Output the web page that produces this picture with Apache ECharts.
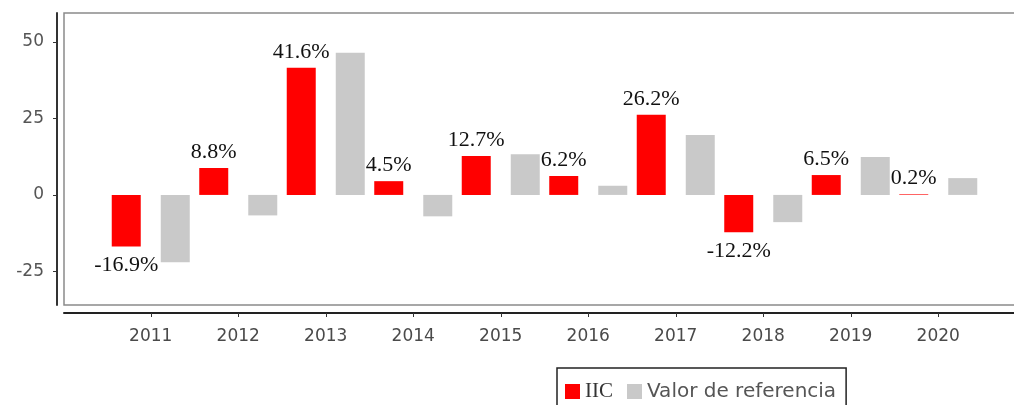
<!DOCTYPE html>
<html>
<head>
<meta charset="utf-8">
<script src="https://cdn.jsdelivr.net/npm/echarts@6/dist/echarts.min.js"></script>
<style>
  html, body { margin: 0; padding: 0; background: #fff; }
  #chart { width: 1014px; height: 405px; }
</style>
</head>
<body>
<div id="chart"></div>
<script>
// data
var years = ['2011', '2012', '2013', '2014', '2015', '2016', '2017', '2018', '2019', '2020'];
var iic = [-16.9, 8.8, 41.6, 4.5, 12.7, 6.2, 26.2, -12.2, 6.5, 0.2];
var referencia = [-22.0, -6.7, 46.5, -7.0, 13.3, 3.0, 19.6, -8.9, 12.4, 5.5];
var yTicks = [-25, 0, 25, 50];

var chart = echarts.init(document.getElementById('chart'), null, { renderer: 'canvas' });

var sans = 'DejaVu Sans';
var serif = 'Liberation Serif';

var option = {
    animation: false,
    backgroundColor: '#fff',
    // plot frame, open on the right like the original (runs off the canvas)
    graphic: [{
        type: 'polyline', z: -1, silent: true,
        shape: { points: [[1100, 13], [64, 13], [64, 305], [1100, 305]] },
        style: { fill: null, stroke: '#8a8a8a', lineWidth: 1.5 }
    }],
    grid: [
        // holds the long axis line below the frame
        { left: 64, top: 13, right: 0, height: 292 },
        // data area
        { left: 107, top: 13, width: 875, height: 292 }
    ],
    legend: {
        data: ['IIC', 'Valor de referencia'],
        left: 557,
        top: 368,
        padding: [13, 10, 13, 8],
        borderColor: '#222',
        borderWidth: 1.5,
        icon: 'rect',
        itemWidth: 15,
        itemHeight: 15,
        itemGap: 14,
        formatter: function (name) {
            return name === 'IIC' ? '{s|' + name + '}' : '{d|' + name + '}';
        },
        textStyle: {
            rich: {
                s: { fontFamily: serif, fontSize: 21, color: '#333' },
                d: { fontFamily: sans, fontSize: 20, color: '#555' }
            }
        }
    },
    xAxis: [
        {
            type: 'value', gridIndex: 0, position: 'bottom', offset: 8,
            axisLine: { show: true, onZero: false, lineStyle: { color: '#222', width: 2 } },
            axisTick: { show: false }, axisLabel: { show: false }, splitLine: { show: false }
        },
        {
            type: 'category', gridIndex: 1, data: years, position: 'bottom', offset: 8,
            boundaryGap: true,
            axisLine: { show: false, onZero: false },
            axisTick: { show: true, alignWithLabel: true, length: 4, lineStyle: { color: '#333' } },
            axisLabel: { fontFamily: sans, fontSize: 17, color: '#4a4a4a', margin: 15 },
            splitLine: { show: false }
        }
    ],
    yAxis: [
        {
            type: 'value', gridIndex: 0, show: false
        },
        {
            type: 'value', gridIndex: 1, min: -36, max: 59.5, offset: 50,
            axisLine: { show: true, onZero: false, lineStyle: { color: '#333', width: 2 } },
            axisTick: { show: true, length: 4, customValues: yTicks, lineStyle: { color: '#333' } },
            axisLabel: { fontFamily: sans, fontSize: 17, color: '#555', margin: 13, customValues: yTicks },
            splitLine: { show: false }
        }
    ],
    series: [
        {
            name: 'IIC', type: 'bar', xAxisIndex: 1, yAxisIndex: 1,
            barWidth: 29, barGap: '69%',
            itemStyle: { color: '#ff0000' },
            label: {
                show: true,
                position: 'top',
                distance: 5,
                fontFamily: serif, fontSize: 22, color: '#111',
                formatter: function (p) { return p.value.toFixed(1) + '%'; }
            },
            // negative bars get their label underneath
            data: iic.map(function (v) {
                return v < 0 ? { value: v, label: { position: 'bottom', distance: 8 } } : v;
            })
        },
        {
            name: 'Valor de referencia', type: 'bar', xAxisIndex: 1, yAxisIndex: 1,
            data: referencia, barWidth: 29,
            itemStyle: { color: '#c9c9c9' }
        }
    ]
};

chart.setOption(option);
</script>
</body>
</html>
